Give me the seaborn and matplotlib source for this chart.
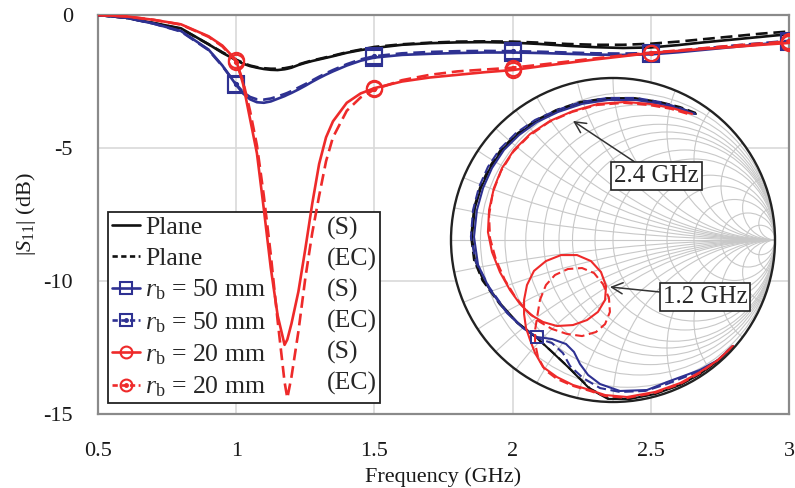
import numpy as np
import matplotlib
matplotlib.use("Agg")
import matplotlib.pyplot as plt
import seaborn as sns
from matplotlib.lines import Line2D
from matplotlib.patches import Circle

# ---------------- |S11| versus frequency ----------------
freq = [0.5, 0.6, 0.7, 0.8, 0.9, 0.95, 1.0, 1.025, 1.05, 1.075, 1.1, 1.125, 1.15,
        1.175, 1.185, 1.2, 1.225, 1.25, 1.275, 1.3, 1.325, 1.35, 1.4, 1.45, 1.5,
        1.6, 1.7, 1.8, 1.9, 2.0, 2.1, 2.2, 2.3, 2.4, 2.5, 2.6, 2.7, 2.8, 2.9, 3.0]

plane_s = [0, -0.1, -0.3, -0.5, -1.1, -1.42, -1.7, -1.83, -1.92, -1.98, -2.03, -2.06,
           -2.07, -2.04, -2.02, -1.98, -1.88, -1.8, -1.73, -1.67, -1.61, -1.55, -1.42,
           -1.32, -1.24, -1.12, -1.06, -1.03, -1.02, -1.04, -1.09, -1.16, -1.21, -1.24,
           -1.22, -1.13, -1.02, -0.92, -0.82, -0.72]
plane_ec = [0, -0.1, -0.3, -0.52, -1.1, -1.4, -1.68, -1.8, -1.9, -1.96, -2.0, -2.02,
            -2.02, -2.0, -1.98, -1.95, -1.86, -1.78, -1.71, -1.65, -1.59, -1.53, -1.4,
            -1.3, -1.2, -1.1, -1.04, -1.0, -0.99, -1.0, -1.04, -1.09, -1.12, -1.12,
            -1.08, -1.0, -0.9, -0.8, -0.7, -0.62]
rb50_s = [0, -0.1, -0.32, -0.6, -1.3, -1.9, -2.63, -2.95, -3.17, -3.28, -3.3, -3.25,
          -3.15, -3.05, -3.0, -2.93, -2.8, -2.66, -2.51, -2.37, -2.24, -2.12, -1.9,
          -1.72, -1.6, -1.5, -1.46, -1.43, -1.41, -1.41, -1.43, -1.46, -1.49, -1.5,
          -1.48, -1.4, -1.3, -1.2, -1.1, -1.0]
rb50_ec = [0, -0.1, -0.32, -0.62, -1.32, -1.92, -2.6, -2.9, -3.08, -3.17, -3.18, -3.14,
           -3.06, -2.97, -2.93, -2.86, -2.73, -2.6, -2.46, -2.32, -2.19, -2.07, -1.85,
           -1.67, -1.55, -1.44, -1.39, -1.36, -1.35, -1.36, -1.38, -1.41, -1.44, -1.45,
           -1.43, -1.35, -1.25, -1.15, -1.06, -0.97]
rb20_s = [0, -0.05, -0.18, -0.35, -0.8, -1.15, -1.7, -2.6, -3.9, -5.2, -7.3, -9.5,
          -11.3, -12.4, -12.2, -11.6, -10.4, -8.8, -7.1, -5.6, -4.6, -4.0, -3.3,
          -2.95, -2.75, -2.5, -2.35, -2.25, -2.15, -2.07, -1.93, -1.8, -1.67, -1.55,
          -1.43, -1.35, -1.27, -1.2, -1.12, -1.05]
rb20_ec = [0, -0.05, -0.18, -0.36, -0.82, -1.18, -1.75, -2.5, -3.6, -4.9, -6.8, -9.0,
           -11.5, -13.8, -14.4, -13.6, -11.9, -9.9, -8.2, -6.8, -5.5, -4.6, -3.6,
           -3.1, -2.8, -2.45, -2.25, -2.12, -2.05, -1.98, -1.87, -1.75, -1.63, -1.52,
           -1.42, -1.33, -1.24, -1.15, -1.07, -0.99]

marker_freqs = [1.0, 1.5, 2.0, 2.5, 3.0]

x_ticks = [0.5, 1.0, 1.5, 2.0, 2.5, 3.0]
x_tick_labels = ["0.5", "1", "1.5", "2", "2.5", "3"]
y_ticks = [0, -5, -10, -15]
y_tick_labels = ["0", "-5", "-10", "-15"]

# ---------------- reflection coefficient traces (Smith chart) ----------------
plane_s_re = [.741, .648, .537, .414, .259, .105, -.031, -.142, -.284, -.389, -.469, -.593,
              -.698, -.802, -.852, -.870, -.852, -.815, -.759, -.685, -.593, -.481, -.352,
              -.204, -.037, .136, .290, .414, .512]
plane_s_im = [-.654, -.747, -.827, -.895, -.951, -.981, -.981, -.920, -.778, -.679, -.605,
              -.506, -.389, -.247, -.123, .019, .198, .321, .444, .556, .648, .728, .796,
              .846, .870, .870, .846, .815, .778]
plane_ec_re = [.741, .650, .540, .416, .262, .108, -.028, -.140, -.279, -.383, -.463, -.590,
               -.700, -.806, -.858, -.876, -.858, -.821, -.765, -.690, -.596, -.484, -.352,
               -.204, -.037, .136, .290, .414, .512]
plane_ec_im = [-.654, -.745, -.825, -.893, -.948, -.978, -.978, -.918, -.781, -.684, -.611,
               -.513, -.395, -.250, -.125, .019, .200, .324, .448, .562, .654, .735, .802,
               .852, .876, .876, .852, .821, .784]
rb50_s_re = [.741, .648, .537, .333, .210, .043, -.080, -.154, -.204, -.241, -.290, -.377,
             -.469, -.556, -.654, -.759, -.833, -.858, -.840, -.802, -.747, -.673, -.580,
             -.469, -.340, -.191, -.031, .142, .290, .414, .506]
rb50_s_im = [-.654, -.741, -.802, -.877, -.926, -.932, -.889, -.833, -.765, -.691, -.642,
             -.611, -.599, -.543, -.451, -.309, -.154, .019, .185, .321, .444, .556, .648,
             .728, .790, .840, .864, .864, .840, .809, .778]
rb50_ec_re = [.741, .648, .537, .333, .198, .043, -.080, -.185, -.265, -.309, -.377, -.469,
              -.562, -.660, -.765, -.846, -.877, -.864, -.827, -.772, -.698, -.599, -.481,
              -.346, -.198, -.031, .142, .290, .414, .506]
rb50_ec_im = [-.654, -.741, -.809, -.889, -.932, -.938, -.914, -.852, -.778, -.698, -.636,
              -.605, -.537, -.438, -.290, -.136, .019, .185, .327, .451, .562, .660, .741,
              .802, .852, .877, .877, .852, .815, .778]
rb20_s_re = [.741, .648, .537, .414, .259, .086, -.049, -.142, -.247, -.346, -.432, -.481,
             -.512, -.537, -.549, -.549, -.531, -.488, -.414, -.321, -.222, -.136, -.074,
             -.043, -.049, -.093, -.160, -.247, -.346, -.432, -.506, -.574, -.636, -.698,
             -.747, -.772, -.765, -.735, -.685, -.611, -.512, -.389, -.247, -.093, .074,
             .228, .364, .488]
rb20_s_im = [-.654, -.741, -.815, -.883, -.938, -.969, -.957, -.926, -.895, -.846, -.784,
             -.698, -.617, -.543, -.457, -.370, -.278, -.191, -.130, -.093, -.093, -.130,
             -.198, -.284, -.370, -.444, -.494, -.525, -.531, -.506, -.463, -.395, -.309,
             -.198, -.074, .049, .185, .321, .444, .556, .654, .735, .796, .840, .852,
             .840, .815, .778]
rb20_ec_re = [.741, .648, .537, .414, .259, .086, -.049, -.142, -.247, -.346, -.420, -.463,
              -.481, -.481, -.469, -.451, -.414, -.358, -.278, -.191, -.117, -.062, -.025,
              -.019, -.049, -.105, -.191, -.284, -.377, -.451, -.525, -.599, -.667, -.722,
              -.759, -.765, -.741, -.691, -.617, -.519, -.395, -.253, -.099, .068, .222,
              .358, .481]
rb20_ec_im = [-.654, -.741, -.821, -.889, -.944, -.975, -.963, -.932, -.901, -.858, -.802,
              -.722, -.636, -.556, -.481, -.370, -.278, -.216, -.179, -.173, -.204, -.272,
              -.358, -.444, -.519, -.568, -.593, -.580, -.549, -.506, -.444, -.358, -.247,
              -.123, .012, .154, .296, .426, .543, .642, .728, .790, .833, .846, .833,
              .809, .772]

smith_r = [0.1, 0.2, 0.3, 0.4, 0.5, 0.6, 0.8, 1.0, 1.5, 2.0, 3.0, 5.0, 10.0]
smith_x = [0.1, 0.2, 0.3, 0.4, 0.5, 0.6, 0.8, 1.0, 1.5, 2.0, 3.0, 5.0, 10.0]

# ---------------- styling ----------------
BLACK = "#111111"
BLUE = "#2e3192"
RED = "#ee2a2a"
DASH = (0, (4.5, 2.2))
LEG_DASH = (0, (2.0, 1.3))

sns.set_theme(style="white")
plt.rcParams.update({
    "font.family": ["Liberation Serif", "DejaVu Serif"],
    "mathtext.fontset": "custom",
    "mathtext.rm": "Liberation Serif",
    "mathtext.it": "Liberation Serif:italic",
    "mathtext.bf": "Liberation Serif:bold",
    "axes.unicode_minus": False,
})

fig = plt.figure(figsize=(7.95, 4.88), dpi=100)
ax = fig.add_axes([98 / 795, 74 / 488, 691 / 795, 399 / 488])

freq_arr = np.asarray(freq)
mark_idx = [int(np.argmin(np.abs(freq_arr - f))) for f in marker_freqs]

series = [
    (plane_s, BLACK, "-", None, False),
    (plane_ec, BLACK, DASH, None, False),
    (rb50_s, BLUE, "-", "s", False),
    (rb50_ec, BLUE, DASH, "s", True),
    (rb20_s, RED, "-", "o", False),
    (rb20_ec, RED, DASH, "o", True),
]

for vals, color, ls, mk, dot in series:
    kw = dict(ax=ax, color=color, linestyle=ls, linewidth=1.9, sort=False,
              estimator=None, legend=False, zorder=3)
    if mk is not None:
        kw.update(marker=mk, markevery=mark_idx, markersize=11, markerfacecolor="none",
                  markeredgecolor=color, markeredgewidth=1.5)
    sns.lineplot(x=freq, y=vals, **kw)
    if dot:
        sns.lineplot(x=[freq[i] for i in mark_idx], y=[vals[i] for i in mark_idx], ax=ax,
                     color=color, linestyle="none", marker="o", markersize=3,
                     markeredgecolor=color, sort=False, estimator=None, legend=False,
                     zorder=3)

ax.set_xlim(0.5, 3.0)
ax.set_ylim(-15, 0)
ax.set_xticks(x_ticks)
ax.set_xticklabels(x_tick_labels)
ax.set_yticks(y_ticks)
ax.set_yticklabels(y_tick_labels)
ax.grid(True, color="#d9d9d9", linewidth=1.2)
ax.set_axisbelow(True)
ax.tick_params(axis="both", length=0, labelsize=16, labelcolor="#1a1a1a")
ax.tick_params(axis="x", pad=20)
ax.tick_params(axis="y", pad=18)
for sp in ax.spines.values():
    sp.set_color("#8a8a8a")
    sp.set_linewidth(1.6)
ax.set_xlabel("Frequency (GHz)", fontsize=16, color="#1a1a1a", labelpad=5)
ax.set_ylabel(r"|$S_{11}$| (dB)", fontsize=16, color="#1a1a1a", labelpad=4)

# legend: curve name in the first column, (S)/(EC) in the second
h_plane_s = Line2D([], [], color=BLACK, lw=1.9)
h_plane_ec = Line2D([], [], color=BLACK, lw=1.9, ls=LEG_DASH)
h_b_s = Line2D([], [], color=BLUE, lw=1.9, marker="s", ms=8.5, mfc="none", mec=BLUE, mew=1.5)
h_b_ec = (Line2D([], [], color=BLUE, lw=1.9, ls=LEG_DASH, marker="s", ms=8.5, mfc="none",
                 mec=BLUE, mew=1.5),
          Line2D([], [], ls="none", marker="o", ms=2.5, color=BLUE))
h_r_s = Line2D([], [], color=RED, lw=1.9, marker="o", ms=8.5, mfc="none", mec=RED, mew=1.5)
h_r_ec = (Line2D([], [], color=RED, lw=1.9, ls=LEG_DASH, marker="o", ms=8.5, mfc="none",
                 mec=RED, mew=1.5),
          Line2D([], [], ls="none", marker="o", ms=2.5, color=RED))
blank = Line2D([], [], ls="none")

names = ["Plane", "Plane", r"$r_{\mathrm{b}}$ = 50 mm", r"$r_{\mathrm{b}}$ = 50 mm",
         r"$r_{\mathrm{b}}$ = 20 mm", r"$r_{\mathrm{b}}$ = 20 mm"]
kinds = ["(S)", "(EC)", "(S)", "(EC)", "(S)", "(EC)"]
handles = [h_plane_s, h_plane_ec, h_b_s, h_b_ec, h_r_s, h_r_ec] + [blank] * 6
leg = ax.legend(handles, names + kinds, ncol=2, loc="lower left",
                bbox_to_anchor=(10 / 691, 11 / 399), fontsize=18.5, handlelength=1.1,
                handletextpad=0.2, columnspacing=1.05, labelspacing=0.3,
                borderpad=0.15, borderaxespad=0, frameon=True, fancybox=False,
                framealpha=1)
leg.get_frame().set_edgecolor("#222222")
leg.get_frame().set_linewidth(1.3)
leg.set_zorder(1.5)

# ---------------- Smith chart inset ----------------
axs = fig.add_axes([451 / 795, 86 / 488, 324 / 795, 324 / 488])
axs.set_xlim(-1, 1)
axs.set_ylim(-1, 1)
axs.axis("off")
axs.patch.set_alpha(0)

axs.add_patch(Circle((0, 0), 1, fc="white", ec="none", zorder=0, clip_on=False))
disk = Circle((0, 0), 1, transform=axs.transData)
GRID = "#c8c8c8"
for r in smith_r:
    c = Circle((r / (1 + r), 0), 1 / (1 + r), fill=False, ec=GRID, lw=0.8, zorder=1)
    axs.add_patch(c)
    c.set_clip_path(disk)
for xv in smith_x:
    for sgn in (1, -1):
        c = Circle((1, sgn / xv), 1 / xv, fill=False, ec=GRID, lw=0.8, zorder=1)
        axs.add_patch(c)
        c.set_clip_path(disk)
axs.plot([-1, 1], [0, 0], color=GRID, lw=0.8, zorder=1)

traces = [
    (plane_s_re, plane_s_im, BLACK, "-"),
    (plane_ec_re, plane_ec_im, BLACK, DASH),
    (rb50_s_re, rb50_s_im, BLUE, "-"),
    (rb50_ec_re, rb50_ec_im, BLUE, DASH),
    (rb20_s_re, rb20_s_im, RED, "-"),
    (rb20_ec_re, rb20_ec_im, RED, DASH),
]
for re_, im_, color, ls in traces:
    sns.lineplot(x=re_, y=im_, ax=axs, color=color, linestyle=ls, linewidth=1.5,
                 sort=False, estimator=None, legend=False)

# marker of the 50 mm trace at 1 GHz
sns.lineplot(x=[rb50_s_re[12]], y=[rb50_s_im[12]], ax=axs, color=BLUE, linestyle="none",
             marker="s", markersize=9, markerfacecolor="none", markeredgecolor=BLUE,
             markeredgewidth=1.4, sort=False, estimator=None, legend=False)

axs.add_patch(Circle((0, 0), 1, fill=False, ec="#222222", lw=1.7, zorder=3, clip_on=False))

box = dict(boxstyle="square,pad=0.12", fc="white", ec="#222222", lw=1.2)
arrow = dict(arrowstyle="->", color="#333333", lw=1.1, shrinkA=0, shrinkB=0,
             mutation_scale=20)
axs.annotate("2.4 GHz", xy=(-0.247, 0.735), xytext=(0.269, 0.392), ha="center",
             va="center", fontsize=18, bbox=box, arrowprops=arrow, zorder=5,
             annotation_clip=False)
axs.annotate("1.2 GHz", xy=(-0.019, -0.290), xytext=(0.568, -0.349), ha="center",
             va="center", fontsize=18, bbox=box, arrowprops=arrow, zorder=5,
             annotation_clip=False)

fig.savefig("out.png", dpi=100)
